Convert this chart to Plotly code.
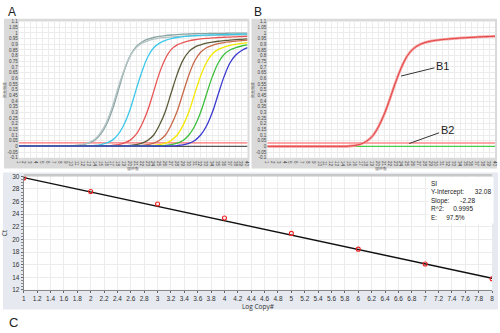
import plotly.graph_objects as go

W, H = 500, 333
def px(x): return x / W
def py(y): return 1 - y / H

cycles = list(range(1, 41))

# Panel A amplification curves (fluorescence per cycle)
grey1 = [0.005]*9 + [0.006, 0.009, 0.016, 0.03, 0.057, 0.11, 0.20, 0.33, 0.50, 0.67, 0.80, 0.88, 0.92, 0.945, 0.96, 0.97,
         0.977, 0.982, 0.986, 0.989, 0.991, 0.993, 0.994, 0.995, 0.996, 0.997, 0.997, 0.998, 0.998, 0.999, 0.999]
grey2 = [0.005]*9 + [0.007, 0.011, 0.019, 0.035, 0.065, 0.125, 0.22, 0.36, 0.53, 0.68, 0.80, 0.87, 0.91, 0.93, 0.945, 0.955,
         0.96, 0.965, 0.968, 0.971, 0.973, 0.975, 0.976, 0.977, 0.978, 0.979, 0.98, 0.98, 0.981, 0.981, 0.982]
cyan = [0.005]*12 + [0.006, 0.009, 0.016, 0.03, 0.057, 0.11, 0.20, 0.33, 0.50, 0.66, 0.79, 0.87, 0.91, 0.935, 0.95, 0.96,
        0.967, 0.972, 0.976, 0.979, 0.981, 0.983, 0.985, 0.986, 0.987, 0.988, 0.989, 0.99]
red = [0.005]*15 + [0.006, 0.009, 0.015, 0.03, 0.055, 0.105, 0.195, 0.32, 0.485, 0.65, 0.775, 0.855, 0.895, 0.915, 0.93,
       0.94, 0.947, 0.952, 0.956, 0.96, 0.962, 0.964, 0.966, 0.968, 0.97]
olive = [0.005]*18 + [0.006, 0.009, 0.015, 0.028, 0.054, 0.10, 0.19, 0.31, 0.475, 0.635, 0.76, 0.835, 0.875, 0.895, 0.91,
         0.92, 0.927, 0.932, 0.937, 0.941, 0.944, 0.947]
salmon = [0.005]*20 + [0.006, 0.009, 0.015, 0.028, 0.054, 0.10, 0.19, 0.31, 0.47, 0.63, 0.755, 0.83, 0.87, 0.89, 0.905,
          0.915, 0.922, 0.928, 0.933, 0.937]
yellow = [0.005]*22 + [0.006, 0.009, 0.015, 0.028, 0.053, 0.10, 0.185, 0.305, 0.465, 0.62, 0.74, 0.815, 0.855, 0.875,
          0.89, 0.90, 0.908, 0.915]
green = [0.005]*24 + [0.006, 0.009, 0.015, 0.028, 0.052, 0.10, 0.18, 0.30, 0.46, 0.615, 0.735, 0.81, 0.85, 0.87, 0.885, 0.895]
blue = [0.003]*26 + [0.004, 0.007, 0.013, 0.027, 0.052, 0.10, 0.18, 0.30, 0.46, 0.615, 0.735, 0.805, 0.845, 0.87]
neg_a = [0.0]*40
threshold = [0.03]*40

curves_a = [
    (grey1, "#8aa3a3"), (grey2, "#b5c4c4"), (cyan, "#3cc8ea"), (red, "#e85555"), (olive, "#5b5b3a"),
    (salmon, "#c8684a"), (yellow, "#f5e800"), (green, "#3cbf3c"), (blue, "#3a3ad0"),
]

# Panel B
b1 = [0.0]*14 + [0.002, 0.008, 0.02, 0.045, 0.09, 0.17, 0.28, 0.42, 0.57, 0.70, 0.80, 0.86, 0.895, 0.915, 0.928, 0.936,
      0.942, 0.947, 0.951, 0.955, 0.958, 0.961, 0.964, 0.967, 0.969, 0.971]
b2 = [0.0]*40

# Panel C standard curve
log_copy = [1, 2, 3, 4, 5, 6, 7, 8]
ct_vals = [29.75, 27.6, 25.6, 23.4, 20.95, 18.45, 16.1, 13.75]
y_intercept = 32.08
slope = -2.28
r2 = 0.9995
eff = 97.5

fig = go.Figure()

gridc = "#ececec"
tickfont = dict(size=4.5, color="#444", family="Liberation Sans")

def add_qpcr_axes(n, x0, x1):
    fig.layout[f"xaxis{n}"] = dict(domain=[px(x0), px(x1)], range=[1, 40], anchor=f"y{n}", dtick=1,
                                   showgrid=True, gridcolor=gridc, gridwidth=0.6, zeroline=False,
                                   tickfont=tickfont, ticks="", showline=False,
                                   title=dict(text="循环数", font=dict(size=4, color="#555"), standoff=1))
    fig.layout[f"yaxis{n}"] = dict(domain=[py(157), py(18)], range=[-0.1, 1.1], anchor=f"x{n}", dtick=0.05,
                                   showgrid=True, gridcolor=gridc, gridwidth=0.6, zeroline=False,
                                   tickfont=tickfont, ticks="", showline=False,
                                   tickvals=[round(-0.1 + 0.05*i, 2) for i in range(25)],
                                   ticktext=[("%g" % round(-0.1 + 0.05*i, 2)) for i in range(25)],
                                   title=dict(text="荧光强度", font=dict(size=4, color="#555"), standoff=1))

add_qpcr_axes("", 16, 247)
add_qpcr_axes(2, 267, 497)

# Panel A traces
fig.add_trace(go.Scatter(x=cycles, y=threshold, mode="lines", line=dict(color="#ff7070", width=1.2),
                         xaxis="x", yaxis="y", showlegend=False))
fig.add_trace(go.Scatter(x=cycles, y=neg_a, mode="lines", line=dict(color="#555555", width=1.2),
                         xaxis="x", yaxis="y", showlegend=False))
for vals, col in curves_a:
    fig.add_trace(go.Scatter(x=cycles, y=vals, mode="lines", line=dict(color=col, width=1.3, shape="spline"),
                             xaxis="x", yaxis="y", showlegend=False))

# Panel B traces
fig.add_trace(go.Scatter(x=cycles, y=threshold, mode="lines", line=dict(color="#ff8a8a", width=1.5),
                         xaxis="x2", yaxis="y2", showlegend=False))
fig.add_trace(go.Scatter(x=cycles, y=b2, mode="lines", line=dict(color="#44cc44", width=1.3),
                         xaxis="x2", yaxis="y2", showlegend=False))
fig.add_trace(go.Scatter(x=cycles, y=b1, mode="lines", line=dict(color="#f59a9a", width=2.6, shape="spline"),
                         xaxis="x2", yaxis="y2", showlegend=False))
fig.add_trace(go.Scatter(x=cycles, y=b1, mode="lines", line=dict(color="#e03a3a", width=0.9, shape="spline"),
                         xaxis="x2", yaxis="y2", showlegend=False))

# Panel C axes
fig.layout["xaxis3"] = dict(domain=[px(21), px(494)], range=[1, 8], anchor="y3", dtick=0.2,
                            showgrid=True, gridcolor="#ececec", gridwidth=0.8, zeroline=False,
                            tickfont=dict(size=6.5, color="#333", family="Liberation Sans"),
                            ticks="outside", ticklen=2, tickcolor="#666", showline=True, linecolor="#888",
                            tickvals=[round(1 + 0.2*i, 1) for i in range(36)],
                            ticktext=[("%g" % round(1 + 0.2*i, 1)) for i in range(36)],
                            title=dict(text="Log Copy#", font=dict(size=6.5, color="#333"), standoff=2))
fig.layout["yaxis3"] = dict(domain=[py(292), py(176)], range=[12, 30], anchor="x3", dtick=2,
                            showgrid=True, gridcolor="#ececec", gridwidth=0.8, zeroline=False,
                            tickfont=dict(size=6.5, color="#333", family="Liberation Sans"),
                            ticks="outside", ticklen=2, tickcolor="#666", showline=True, linecolor="#888",
                            minor=dict(dtick=0.5, ticks="outside", ticklen=1.5, tickcolor="#888"),
                            title=dict(text="Ct", font=dict(size=6.5, color="#333"), standoff=4))

fig.add_trace(go.Scatter(x=[1, 8], y=[y_intercept + slope*1, y_intercept + slope*8], mode="lines",
                         line=dict(color="#111", width=1.4), xaxis="x3", yaxis="y3", showlegend=False))
fig.add_trace(go.Scatter(x=log_copy, y=ct_vals, mode="markers",
                         marker=dict(symbol="circle-open", size=4, color="#ee2222", line=dict(width=1.1)),
                         xaxis="x3", yaxis="y3", showlegend=False))

shapes = [
    # frames
    dict(type="rect", xref="paper", yref="paper", x0=px(1), x1=px(249), y0=py(168), y1=py(15),
         fillcolor="#dadada", line=dict(width=0), layer="below"),
    dict(type="rect", xref="paper", yref="paper", x0=px(251), x1=px(499), y0=py(168), y1=py(15),
         fillcolor="#dadada", line=dict(width=0), layer="below"),
    dict(type="rect", xref="paper", yref="paper", x0=px(0), x1=px(500), y0=py(312), y1=py(172),
         fillcolor="#e6eaf0", line=dict(width=0), layer="below"),
    # plot backgrounds
    dict(type="rect", xref="paper", yref="paper", x0=px(16), x1=px(247), y0=py(157), y1=py(18),
         fillcolor="white", line=dict(width=0), layer="below"),
    dict(type="rect", xref="paper", yref="paper", x0=px(267), x1=px(497), y0=py(157), y1=py(18),
         fillcolor="white", line=dict(width=0), layer="below"),
    dict(type="rect", xref="paper", yref="paper", x0=px(21), x1=px(494), y0=py(292), y1=py(176),
         fillcolor="white", line=dict(width=0), layer="below"),
    dict(type="line", xref="paper", yref="paper", x0=px(21), x1=px(494), y0=py(175), y1=py(175),
         line=dict(color="#c8c8c8", width=2.5)),
]

annotations = [
    dict(text="A", x=px(3), y=py(8), xref="paper", yref="paper", showarrow=False, xanchor="left",
         yanchor="middle", font=dict(size=12, color="#222", family="Liberation Sans")),
    dict(text="B", x=px(252), y=py(8), xref="paper", yref="paper", showarrow=False, xanchor="left",
         yanchor="middle", font=dict(size=12, color="#222", family="Liberation Sans")),
    dict(text="C", x=px(4), y=py(325), xref="paper", yref="paper", showarrow=False, xanchor="left",
         yanchor="middle", font=dict(size=13, color="#222", family="Liberation Sans")),
    dict(text="B1", x=23.9, y=0.62, xref="x2", yref="y2", ax=31.0, ay=0.71, axref="x2", ayref="y2",
         showarrow=True, arrowhead=0, arrowwidth=1, arrowcolor="#333",
         font=dict(size=11, color="#222", family="Liberation Sans")),
    dict(text="B2", x=25.3, y=0.025, xref="x2", yref="y2", ax=31.8, ay=0.145, axref="x2", ayref="y2",
         showarrow=True, arrowhead=0, arrowwidth=1, arrowcolor="#333",
         font=dict(size=11, color="#222", family="Liberation Sans")),
    dict(text=("SI<br>Y-Intercept:      %.2f<br>Slope:      %.2f<br>R^2:     %.4f<br>E:     %.1f%%"
               % (y_intercept, slope, r2, eff)),
         x=px(429), y=py(177), xref="paper", yref="paper", xanchor="left", yanchor="top", align="left",
         showarrow=False, bgcolor="white", borderpad=2,
         font=dict(size=6.5, color="#222", family="Liberation Sans")),
]

fig.update_layout(width=W, height=H, margin=dict(l=0, r=0, t=0, b=0), paper_bgcolor="white",
                  plot_bgcolor="rgba(0,0,0,0)", shapes=shapes, annotations=annotations, showlegend=False)

fig.write_html("out.html")
